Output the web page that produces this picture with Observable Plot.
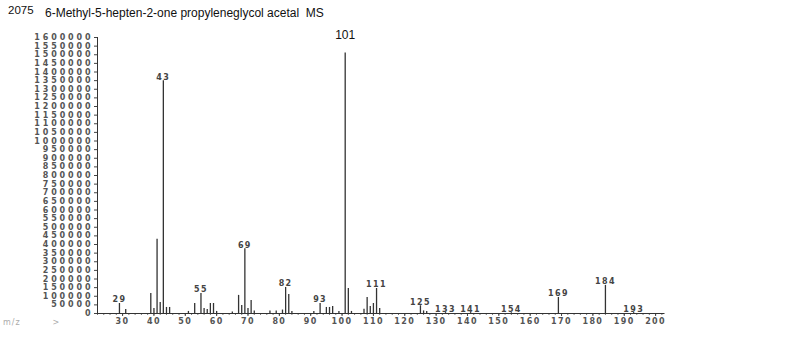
<!DOCTYPE html>
<html>
<head>
<meta charset="utf-8">
<script src="https://cdn.jsdelivr.net/npm/d3@7"></script>
<script src="https://cdn.jsdelivr.net/npm/@observablehq/plot@0.6"></script>
<style>
  html, body { margin: 0; padding: 0; background: #fff; }
  #wrap { position: relative; width: 800px; height: 358px; overflow: hidden; }
  #title { position: absolute; left: 0; top: 0; font-family: "Liberation Sans", Arial, sans-serif; font-size: 12px; color: #111; white-space: pre; }
  #num { position: absolute; left: 8px; top: 4px; font-size: 11.5px; }
  #name { position: absolute; left: 45px; top: 6px; font-size: 12px; }
  #mz { position: absolute; left: 3px; top: 318px; font-family: "DejaVu Sans", sans-serif; font-size: 8px; color: #aaa; letter-spacing: 1px; }
  g[aria-label="y-axis tick label"] text { letter-spacing: 2.9px; }
  g[aria-label="x-axis tick label"] text { letter-spacing: 1.4px; }
  g[aria-label="text"] text { letter-spacing: 1.4px; }
  g[aria-label="text"]:last-of-type text { letter-spacing: 0; }
</style>
</head>
<body>
<div id="wrap">
  <div id="chart"></div>
  <div id="title"><span id="num">2075</span><span id="name">6-Methyl-5-hepten-2-one propyleneglycol acetal  MS</span></div>
  <div id="mz">m/z&nbsp;&nbsp;&nbsp;&nbsp;&nbsp;&nbsp;&nbsp;&nbsp;&nbsp;&gt;</div>
</div>
<script>
// m/z values and intensities
const mz = [29, 31, 39, 40, 41, 42, 43, 44, 45, 51, 53, 55, 56, 57, 58, 59, 60, 65, 67, 68, 69, 70, 71, 72, 77, 79, 81, 82, 83, 84, 91, 93, 95, 96, 97, 99, 101, 102, 103, 107, 108, 109, 110, 111, 112, 125, 126, 127, 133, 141, 154, 169, 184, 193];
const intensity = [58000, 23000, 116000, 29000, 430000, 64000, 1350000, 35000, 35000, 12000, 58000, 116000, 29000, 23000, 58000, 58000, 12000, 8000, 105000, 47000, 375000, 29000, 75000, 15000, 15000, 15000, 20000, 151000, 110000, 12000, 12000, 58000, 35000, 35000, 40000, 12000, 1510000, 145000, 12000, 25000, 93000, 40000, 58000, 145000, 29000, 45000, 15000, 12000, 5000, 5000, 4000, 93000, 163000, 5000];

// labelled peaks
const labelMz = [29, 43, 55, 69, 82, 93, 111, 125, 133, 141, 154, 169, 184, 193];
const baseMz = 101;

// axis ticks
const yTicks = d3.range(0, 1600001, 50000);
const xTicks = d3.range(30, 201, 10);
const xMinor = d3.range(22, 204, 2);

const peaks = mz.map((m, i) => ({mz: m, int: intensity[i]}));
const lookup = new Map(peaks.map(d => [d.mz, d.int]));
const labels = labelMz.map(m => ({mz: m, int: lookup.get(m)}));
const base = [{mz: baseMz, int: lookup.get(baseMz)}];

const chart = Plot.plot({
  width: 800,
  height: 358,
  marginLeft: 97,
  marginRight: 135.5,
  marginTop: 37,
  marginBottom: 45,
  style: {background: "#fff", color: "#555", fontSize: "8px", fontFamily: "DejaVu Sans, sans-serif"},
  x: {domain: [22, 203], axis: null, label: null},
  y: {domain: [0, 1600000], axis: null, label: null},
  marks: [
    Plot.axisY({ticks: yTicks, label: null, tickFormat: d3.format("d"), tickSize: 3, tickPadding: 1, fontSize: 8, fontWeight: "bold", fill: "#555", stroke: "#444"}),
    Plot.axisX({ticks: xMinor, label: null, tickSize: 2, tickFormat: () => "", stroke: "#777"}),
    Plot.axisX({ticks: xTicks, label: null, tickSize: 3, tickPadding: 2, fontSize: 8, fontWeight: "bold", fill: "#555", stroke: "#444"}),
    Plot.ruleX([22], {y1: 0, y2: 1600000, stroke: "#333", strokeWidth: 1}),
    Plot.ruleY([0], {stroke: "#333", strokeWidth: 1}),
    Plot.ruleX(peaks, {x: "mz", y1: 0, y2: "int", stroke: "#333", strokeWidth: 1.3}),
    Plot.text(labels, {x: "mz", y: "int", text: d => String(d.mz), lineAnchor: "bottom", dy: -1, fontSize: 8, fontWeight: "bold", fill: "#444"}),
    Plot.text(base, {x: "mz", y: "int", text: d => String(d.mz), lineAnchor: "bottom", dy: -14, fontSize: 12, fill: "#111", fontFamily: "Liberation Sans, Arial, sans-serif"})
  ]
});
document.getElementById("chart").appendChild(chart);
</script>
</body>
</html>
